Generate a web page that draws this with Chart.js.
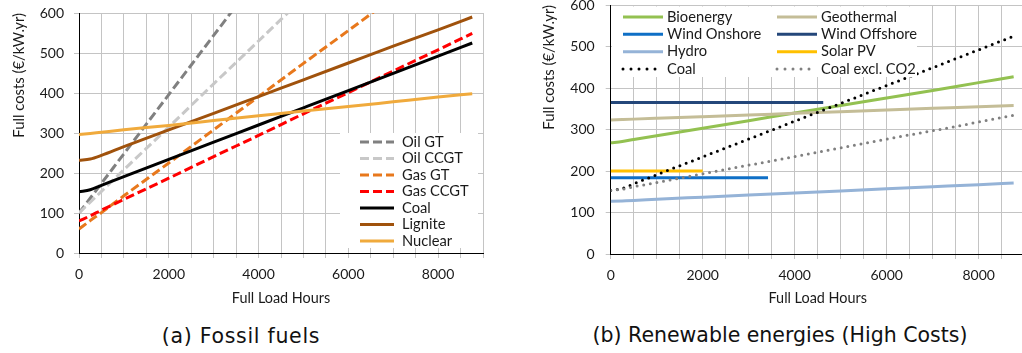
<!DOCTYPE html>
<html>
<head>
<meta charset="utf-8">
<script src="https://cdn.jsdelivr.net/npm/chart.js@4.4.1/dist/chart.umd.min.js"></script>
<style>
  html, body { margin: 0; padding: 0; background: #fff; overflow: hidden; width: 1022px; height: 353px; }
  canvas { position: absolute; }
  #fossil { left: 0; top: -20px; }
  #renew { left: 525px; top: -20px; }
  .cap { position: absolute; font-family: "DejaVu Sans", sans-serif; font-size: 20.5px; color: #111;
         white-space: nowrap; text-align: center; line-height: 24px; }
</style>
</head>
<body>
<canvas id="fossil" width="500" height="330"></canvas>
<canvas id="renew" width="510" height="330"></canvas>
<div class="cap" style="left:91px; width:300px; top:324px; letter-spacing:0.7px;">(a) Fossil fuels</div>
<div class="cap" style="left:580px; width:400px; top:323px;">(b) Renewable energies (High Costs)</div>
<script>
// Full load hours at which each cost curve is sampled
const hours = [0, 250, 500, 1000, 2000, 3000, 4000, 5000, 6000, 7000, 8000, 8760];

// Fossil plants, full costs in €/kW.yr
const oilGT   = [100, 137, 174, 248, 396, 544, 692, 840, 988, 1136, 1284, 1396];
const oilCCGT = [100, 127, 154, 208, 315, 423, 530, 638, 745, 853, 960, 1042];
const gasGT   = [60, 81, 101, 143, 225, 308, 391, 474, 556, 639, 722, 784];
const gasCCGT = [80, 93, 107, 134, 187, 241, 294, 348, 401, 455, 508, 549];
const coal    = [153, 158, 169, 191, 234, 277, 320, 363, 406, 449, 492, 525];
const lignite = [232, 235, 244, 266, 308, 349, 391, 433, 475, 517, 558, 590];
const nuclear = [296, 299, 302, 308, 319, 331, 343, 355, 366, 378, 390, 398];

// Renewables (high cost case), full costs in €/kW.yr
const bioenergy  = [268, 271, 276, 285, 303, 321, 340, 358, 376, 394, 413, 427];
const geothermal = [323, 324, 325, 327, 331, 335, 339, 343, 347, 351, 355, 358];
const hydro      = [127, 128, 129, 132, 137, 142, 147, 152, 157, 162, 167, 171];
const coalNoCO2  = [153, 156, 162, 172, 193, 214, 235, 256, 277, 297, 318, 334];
// Wind and solar only reach a limited number of full load hours
const windOnshoreHours  = [0, 3420];
const windOnshore       = [184, 184];
const windOffshoreHours = [0, 4620];
const windOffshore      = [365, 365];
const solarHours        = [0, 2000];
const solarPV           = [200, 200];

// Axis ticks
const xLabels = [0, 2000, 4000, 6000, 8000];
const yTicks  = [0, 100, 200, 300, 400, 500, 600];

const TXT = '#1a1a1a';
const GRID = '#c4c4c4';
const FONT = 'Lato';

const pts = (xs, ys) => xs.map((x, i) => ({ x, y: ys[i] }));

function line(label, xs, ys, color, style) {
  const ds = {
    label, data: pts(xs, ys), borderColor: color, backgroundColor: color,
    borderWidth: 3, pointRadius: 0, fill: false, cubicInterpolationMode: 'monotone',
    borderCapStyle: 'butt'
  };
  if (style === 'dash') ds.borderDash = [9, 4];
  if (style === 'dot') { ds.borderDash = [0, 6.7]; ds.borderCapStyle = 'round'; ds.legendDash = [0, 8]; }
  return ds;
}

// Legend drawn inside the plot area on a white panel
function insetLegend(cfg) {
  return {
    id: 'insetLegend',
    afterDraw(chart) {
      const { ctx, chartArea: a } = chart;
      ctx.save();
      ctx.fillStyle = '#fff';
      ctx.fillRect(a.left + cfg.box[0], a.top + cfg.box[1], cfg.box[2], cfg.box[3]);
      ctx.font = cfg.font;
      ctx.textBaseline = 'middle';
      chart.data.datasets.forEach((ds, i) => {
        const col = i % cfg.cols, row = Math.floor(i / cfg.cols);
        const y = a.top + cfg.rowY + row * cfg.rowH;
        const x0 = a.left + cfg.colX[col];
        ctx.save();
        ctx.strokeStyle = ds.borderColor;
        ctx.lineWidth = ds.borderWidth;
        ctx.setLineDash(ds.legendDash || ds.borderDash || []);
        ctx.lineCap = ds.borderCapStyle;
        ctx.beginPath();
        ctx.moveTo(x0, y);
        ctx.lineTo(x0 + cfg.sample, y);
        ctx.stroke();
        ctx.restore();
        ctx.fillStyle = TXT;
        ctx.fillText(ds.label, x0 + cfg.sample + cfg.gap, y);
      });
      ctx.restore();
    }
  };
}

function axes(o) {
  return {
    x: {
      type: 'linear', min: 0, max: 9000,
      ticks: {
        stepSize: 500, autoSkip: false, maxRotation: 0, maxTicksLimit: 100,
        padding: 8.5, color: TXT, font: { family: FONT, size: 14 },
        callback: v => xLabels.includes(v) ? String(v) : ''
      },
      grid: { color: GRID, lineWidth: 1, tickLength: 5 },
      border: { color: '#000', width: 1 },
      title: { display: true, text: 'Full Load Hours', color: TXT,
               font: { family: FONT, size: 14.4 }, padding: { top: 0, bottom: 3 } },
      afterFit: s => { s.height = o.xH; }
    },
    y: {
      min: 0, max: 600,
      afterBuildTicks: s => { s.ticks = yTicks.map(v => ({ value: v })); },
      ticks: { padding: o.yPad, color: TXT, font: { family: FONT, size: 14 } },
      grid: { color: GRID, lineWidth: 1, tickLength: 5 },
      border: { color: '#000', width: 1 },
      title: { display: true, text: 'Full costs (€/kW.yr)', color: TXT, align: 'end',
               font: { family: FONT, size: 14.8 }, padding: { top: o.titlePad, bottom: 0 } },
      afterFit: s => { s.width = o.yW; }
    }
  };
}

function baseOptions(o) {
  return {
    responsive: false, animation: false, devicePixelRatio: 1,
    layout: { padding: o.pad },
    plugins: { legend: { display: false }, tooltip: { enabled: false } },
    scales: axes(o)
  };
}

function ordered(list) {
  list.forEach((d, i) => { d.order = -i; });
  return list;
}

new Chart(document.getElementById('fossil'), {
  type: 'line',
  data: {
    datasets: ordered([
      line('Oil GT', hours, oilGT, '#808080', 'dash'),
      line('Oil CCGT', hours, oilCCGT, '#c8c8c8', 'dash'),
      line('Gas GT', hours, gasGT, '#e8781c', 'dash'),
      line('Gas CCGT', hours, gasCCGT, '#ff0000', 'dash'),
      line('Coal', hours, coal, '#000000'),
      line('Lignite', hours, lignite, '#a0520c'),
      line('Nuclear', hours, nuclear, '#f0aa3c')
    ])
  },
  options: baseOptions({ pad: { top: 33, right: 17, bottom: 0, left: 0 }, xH: 57, yW: 79, yPad: 10, titlePad: 10.3 }),
  plugins: [insetLegend({ box: [261, 120, 138, 115], cols: 1, rowY: 129, rowH: 16.5,
                          colX: [281], sample: 34, gap: 8, font: '14.7px Lato' })]
});

new Chart(document.getElementById('renew'), {
  type: 'line',
  data: {
    datasets: ordered([
      line('Bioenergy', hours, bioenergy, '#93c151'),
      line('Geothermal', hours, geothermal, '#c4bd97'),
      line('Wind Onshore', windOnshoreHours, windOnshore, '#0f6fc6'),
      line('Wind Offshore', windOffshoreHours, windOffshore, '#24477a'),
      line('Hydro', hours, hydro, '#95b3d7'),
      line('Solar PV', solarHours, solarPV, '#ffc000'),
      line('Coal', hours, coal, '#000000', 'dot'),
      line('Coal excl. CO2', hours, coalNoCO2, '#808080', 'dot')
    ])
  },
  options: baseOptions({ pad: { top: 25, right: 10.3, bottom: 0, left: 0 }, xH: 56, yW: 85.7, yPad: 11, titlePad: 15 }),
  plugins: [insetLegend({ box: [1.3, 1.5, 305, 70.5], cols: 2, rowY: 12, rowH: 17.33,
                          colX: [12.3, 166.3], sample: 40, gap: 4, font: '14.7px Lato' })]
});
</script>
</body>
</html>
